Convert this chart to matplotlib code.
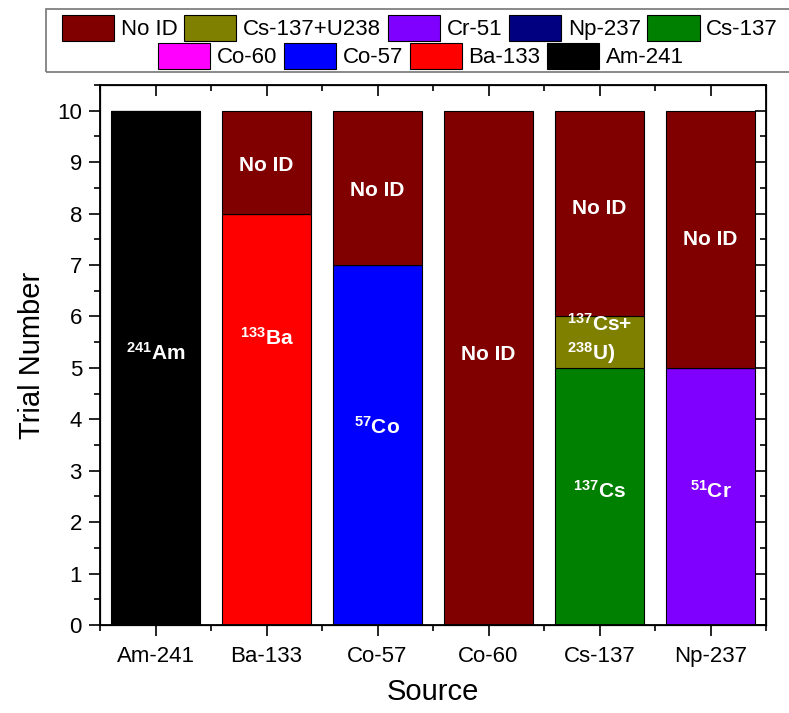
import matplotlib
matplotlib.use("Agg")
import matplotlib.pyplot as plt
from matplotlib.patches import Patch, Rectangle
from matplotlib.ticker import MultipleLocator
import numpy as np

plt.rcParams['font.family'] = ['Liberation Sans', 'DejaVu Sans']
plt.rcParams['mathtext.fontset'] = 'custom'
plt.rcParams['mathtext.rm'] = 'Liberation Sans:bold'
plt.rcParams['mathtext.default'] = 'rm'

sources = ["Am-241", "Ba-133", "Co-57", "Co-60", "Cs-137", "Np-237"]

# stacked segments (bottom to top): identified isotope then No ID
ident_names = ["Am-241", "Ba-133", "Co-57", None, "Cs-137", "Cr-51"]
ident_vals = [10, 8, 7, 0, 5, 5]
mixed_vals = [0, 0, 0, 0, 1, 0]          # Cs-137+U238
noid_vals = [0, 2, 3, 10, 4, 5]

colors = {
    "No ID": "#800000",
    "Cs-137+U238": "#808000",
    "Cr-51": "#8000FF",
    "Np-237": "#000080",
    "Cs-137": "#008000",
    "Co-60": "#FF00FF",
    "Co-57": "#0000FF",
    "Ba-133": "#FF0000",
    "Am-241": "#000000",
}
legend_row1 = ["No ID", "Cs-137+U238", "Cr-51", "Np-237", "Cs-137"]
legend_row2 = ["Co-60", "Co-57", "Ba-133", "Am-241"]

# bar annotations: (bar index, y, text)
ann_x = [0, 1, 2, 3, 4, 4, 5, 1, 2, 4, 5]
ann_y = [5.3, 5.58, 3.85, 5.25, 2.6, 5.55, 2.6, 8.93, 8.45, 8.1, 7.5]
ann_t = [r"$^{241}$Am", r"$^{133}$Ba", r"$^{57}$Co", "No ID", r"$^{137}$Cs",
         "$^{137}$Cs+\n$^{238}$U)", r"$^{51}$Cr", "No ID", "No ID", "No ID", "No ID"]

fig = plt.figure(figsize=(7.89, 7.13), dpi=100)
ax = fig.add_axes([100/789, 88/713, 666/789, 540/713])

x = np.arange(len(sources))
w = 0.8
ident_colors = [colors[n] if n else "white" for n in ident_names]
ax.bar(x, ident_vals, w, color=ident_colors, edgecolor="black", linewidth=0.8)
b1 = np.array(ident_vals)
ax.bar(x, mixed_vals, w, bottom=b1, color=colors["Cs-137+U238"], edgecolor="black", linewidth=0.8)
b2 = b1 + np.array(mixed_vals)
ax.bar(x, noid_vals, w, bottom=b2, color=colors["No ID"], edgecolor="black", linewidth=0.8)

for xi, yi, t in zip(ann_x, ann_y, ann_t):
    ax.text(xi, yi, t, color="white", fontsize=15, fontweight="bold",
            ha="center", va="center", multialignment="left", linespacing=1.3)

ax.set_xlim(-0.5, 5.5)
ax.set_ylim(0, 10.5)
ax.set_xticks(x)
ax.set_xticklabels(sources)
ax.xaxis.set_minor_locator(MultipleLocator(1, offset=0.5))
ax.yaxis.set_major_locator(MultipleLocator(1))
ax.yaxis.set_minor_locator(MultipleLocator(0.5))
ax.tick_params(axis="both", which="major", labelsize=16, length=8, width=1.2, direction="out")
ax.tick_params(axis="both", which="minor", length=4, width=1.2, direction="out")
ax.tick_params(axis="x", which="major", pad=7)
ax.tick_params(axis="y", which="major", pad=5)
for s in ax.spines.values():
    s.set_linewidth(1.3)

ax2 = ax.twinx()
ax2.set_ylim(ax.get_ylim())
ax2.yaxis.set_major_locator(MultipleLocator(1))
ax2.yaxis.set_minor_locator(MultipleLocator(0.5))
ax2.tick_params(axis="y", which="major", direction="in", length=8, width=1.2, labelright=False)
ax2.tick_params(axis="y", which="minor", direction="in", length=4, width=1.2)
ax3 = ax.twiny()
ax3.set_xlim(ax.get_xlim())
ax3.set_xticks(x)
ax3.xaxis.set_minor_locator(MultipleLocator(1, offset=0.5))
ax3.tick_params(axis="x", which="major", direction="in", length=8, width=1.2, labeltop=False)
ax3.tick_params(axis="x", which="minor", direction="in", length=4, width=1.2)

ax.set_xlabel("Source", fontsize=21, labelpad=8)
ax.set_ylabel("Trial Number", fontsize=21, labelpad=8)

h1 = [Patch(facecolor=colors[n], edgecolor="black", linewidth=0.8) for n in legend_row1]
h2 = [Patch(facecolor=colors[n], edgecolor="black", linewidth=0.8) for n in legend_row2]
kw = dict(frameon=False, fontsize=16, handlelength=2.35, handleheight=1.4,
          handletextpad=0.3, columnspacing=0.3, borderpad=0, borderaxespad=0)
l1 = fig.legend(h1, legend_row1, loc="center", bbox_to_anchor=(420/789, 1 - 28/713), ncol=5, **kw)
l2 = fig.legend(h2, legend_row2, loc="center", bbox_to_anchor=(421/789, 1 - 56/713), ncol=4, **kw)
fig.add_artist(Rectangle((46/789, 1 - 72/713), 1.0, 63/713, transform=fig.transFigure,
                         fill=False, edgecolor="#808080", linewidth=1.3))

fig.savefig("out.png", dpi=100)
